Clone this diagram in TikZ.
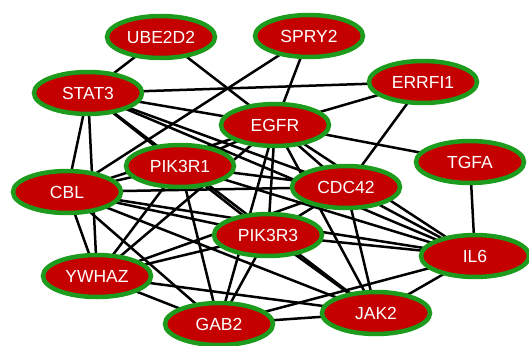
\documentclass[tikz,border=0pt]{standalone}
\usepackage{fontspec}
\setmainfont{Liberation Sans}
\usepackage{tikz}
\usetikzlibrary{shapes.geometric,backgrounds}

\definecolor{genered}{RGB}{196,0,0}
\definecolor{genegreen}{RGB}{28,155,28}

\begin{document}
\begin{tikzpicture}[
    x=1pt, y=-1pt,
    gene/.style={draw=genegreen, line width=4.5pt, ellipse, fill=genered, text=white,
        minimum width=108pt, minimum height=42pt, inner sep=0pt,
        font=\fontsize{17.5}{20}\selectfont},
    link/.style={draw=black, line width=2.5pt}
]
    \useasboundingbox (0,0) rectangle (529,345);

    \node[gene] (ube2d2) at (161,37) {UBE2D2};
    \node[gene] (spry2) at (309,36) {SPRY2};
    \node[gene] (stat3) at (88,93) {STAT3};
    \node[gene] (errfi1) at (423,82) {ERRFI1};
    \node[gene] (egfr) at (275,125) {EGFR};
    \node[gene] (tgfa) at (470,162) {TGFA};
    \node[gene] (pik3r1) at (180,166) {PIK3R1};
    \node[gene] (cdc42) at (346,187) {CDC42};
    \node[gene] (cbl) at (67,192) {CBL};
    \node[gene] (pik3r3) at (268,235) {PIK3R3};
    \node[gene] (il6) at (475,256) {IL6};
    \node[gene] (ywhaz) at (97,276) {YWHAZ};
    \node[gene] (jak2) at (376,313) {JAK2};
    \node[gene] (gab2) at (219,324) {GAB2};

    % interactions
    \begin{pgfonlayer}{background}
    \foreach \a/\b in {ube2d2/stat3, ube2d2/egfr, spry2/egfr, spry2/cbl,
        stat3/errfi1, stat3/egfr, errfi1/egfr, errfi1/cdc42, egfr/tgfa, tgfa/il6,
        stat3/cbl, stat3/ywhaz, cbl/ywhaz, stat3/pik3r1, stat3/cdc42, stat3/il6, stat3/jak2,
        egfr/pik3r1, egfr/cbl, egfr/ywhaz, egfr/pik3r3, egfr/gab2, egfr/jak2, egfr/cdc42, egfr/il6,
        pik3r1/cbl, pik3r1/ywhaz, pik3r1/gab2, pik3r1/pik3r3, pik3r1/cdc42, pik3r1/il6,
        cbl/pik3r3, cbl/cdc42, cbl/il6, cbl/jak2, cbl/gab2,
        ywhaz/pik3r3, ywhaz/cdc42, ywhaz/jak2, ywhaz/gab2,
        cdc42/pik3r3, cdc42/il6, cdc42/jak2,
        pik3r3/gab2, pik3r3/jak2, pik3r3/il6,
        gab2/jak2, gab2/il6, jak2/il6}
        \draw[link] (\a.center) -- (\b.center);
    \end{pgfonlayer}
\end{tikzpicture}
\end{document}
